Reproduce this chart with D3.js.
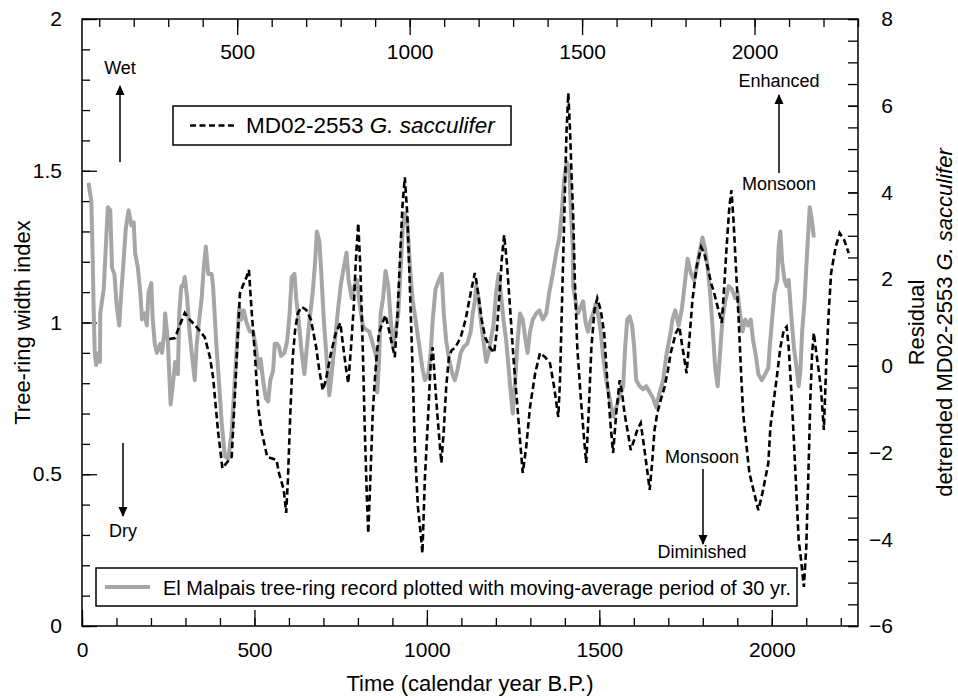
<!DOCTYPE html>
<html>
<head>
<meta charset="utf-8">
<script src="https://cdn.jsdelivr.net/npm/d3@7"></script>
<style>
  body { margin: 0; background: #fff; }
  svg { display: block; font-family: "Liberation Sans", Arial, Helvetica, sans-serif; }
  .tick text { font-size: 21px; fill: #000; }
  .tick line { stroke: #000; stroke-width: 1.3; }
  .note { font-size: 18px; }
  .title { font-size: 22px; }
</style>
</head>
<body>
<div id="chart"></div>
<script>
// El Malpais tree-ring record (30 yr moving average)
var grayYears = [19,27,31,34,37,41,48,52,53,63,70,75,82,87,94,101,108,114,121,127,135,143,150,154,162,169,174,182,188,193,201,205,211,217,227,232,239,241,249,253,257,263,270,278,282,288,
  293,298,305,311,318,327,332,340,347,353,359,366,376,380,390,398,405,414,424,434,443,450,456,462,469,477,487,496,504,511,518,525,533,540,546,554,559,566,571,
  577,587,595,602,608,616,621,628,637,645,652,660,669,676,681,688,693,701,710,717,722,730,736,743,751,759,767,773,782,790,797,804,814,820,833,843,855,
  856,861,866,873,880,888,895,902,909,917,924,930,936,943,950,958,967,977,987,994,1004,1011,1017,1025,1035,1043,1049,1056,1064,1074,1081,1088,1098,1107,1117,1127,1133,1139,
  1143,1150,1156,1164,1172,1179,1185,1193,1201,1208,1214,1222,1230,1237,1243,1249,1256,1263,1270,1278,1285,1292,1299,1307,1317,1326,1336,1346,1355,1365,1375,1384,1391,1398,1405,1413,1418,1423,
  1424,1431,1438,1446,1453,1460,1467,1475,1482,1489,1496,1504,1511,1520,1530,1540,1549,1559,1569,1575,1581,1588,1595,1601,1607,1617,1627,1636,1646,1656,1665,1675,1685,1694,1707,
  1712,1720,1730,1740,1749,1756,1766,1775,1782,1792,1799,1807,1814,1821,1828,1836,1843,1850,1857,1865,1875,1884,1894,1901,1908,1915,1923,1931,1939,1946,1954,1961,1971,1981,1990,
  1994,2001,2008,2016,2020,2025,2030,2037,2043,2049,2056,2064,2072,2078,2083,2088,2095,2100,2106,2110,2116,2122];
var grayValues = [1.46,1.40,1.21,1.03,0.90,0.86,0.90,0.87,1.03,1.11,1.27,1.38,1.37,1.18,1.16,1.05,0.99,1.10,1.21,1.31,1.37,1.32,1.33,1.23,1.18,1.10,1.01,1.03,0.99,1.10,1.13,1.01,0.93,0.90,0.93,0.90,0.97,1.03,0.94,0.83,0.73,0.79,0.87,0.83,1.03,1.12,
  1.12,1.15,1.08,0.98,0.90,0.81,0.92,1.01,1.08,1.18,1.25,1.16,1.16,1.12,0.92,0.79,0.67,0.56,0.55,0.64,0.81,0.94,1.05,1.01,1.04,1.00,0.97,0.97,0.92,0.85,0.88,0.81,0.75,0.74,0.81,0.84,0.93,0.93,0.92,
  0.89,0.90,0.94,1.03,1.15,1.16,1.08,1.01,0.90,0.83,0.92,1.01,1.10,1.20,1.30,1.27,1.18,1.01,0.87,0.76,0.81,0.90,0.97,1.05,1.13,1.18,1.23,1.14,1.08,1.12,1.14,1.07,0.99,0.98,0.97,0.93,0.88,
  0.77,0.87,1.03,1.08,1.17,1.12,1.01,0.92,0.97,1.03,1.18,1.31,1.36,1.34,1.20,1.08,1.01,0.93,0.85,0.81,0.83,0.90,1.01,1.11,1.14,1.16,1.03,0.94,0.88,0.83,0.81,0.84,0.90,0.92,0.93,0.97,1.03,1.07,
  1.12,1.08,1.01,0.94,0.87,0.90,0.94,0.99,1.10,1.16,1.10,1.01,0.94,0.85,0.77,0.70,0.81,0.94,1.03,1.01,0.95,0.90,0.97,1.01,1.03,1.04,1.01,1.03,1.10,1.16,1.23,1.28,1.36,1.47,1.53,1.50,1.36,1.25,
  1.12,1.07,1.03,1.05,1.07,1.00,0.97,1.01,1.03,1.06,1.03,0.97,0.89,0.81,0.75,0.69,0.72,0.76,0.79,0.92,1.01,1.02,0.99,0.92,0.81,0.79,0.78,0.79,0.77,0.75,0.72,0.77,0.81,0.89,0.97,
  1.01,1.04,0.99,1.05,1.14,1.21,1.16,1.14,1.18,1.24,1.28,1.24,1.18,1.10,0.99,0.85,0.79,0.90,1.01,1.07,1.12,1.11,1.08,1.10,1.03,0.97,1.01,0.99,1.01,0.94,0.89,0.83,0.81,0.83,0.85,
  0.92,1.01,1.10,1.14,1.25,1.30,1.20,1.14,1.12,1.14,1.03,0.92,0.85,0.79,0.84,0.97,1.07,1.18,1.30,1.38,1.34,1.28];

// MD02-2553 G. sacculifer residual (right axis)
var dashYears = [253,270,280,298,313,332,356,371,380,388,395,402,407,419,434,443,450,458,467,477,484,491,501,511,520,537,564,571,585,592,597,604,611,618,626,637,650,664,679,688,
  698,707,722,736,749,756,765,772,780,788,794,801,807,814,820,826,830,836,843,849,855,861,871,880,888,898,907,914,921,929,936,943,950,958,965,974,982,987,994,1004,
  1011,1017,1023,1030,1038,1042,1049,1056,1064,1072,1083,1098,1112,1127,1139,1143,1150,1159,1169,1182,1195,1203,1211,1217,1224,1232,1239,1246,1253,1261,1270,1278,1288,1299,1314,1328,1343,1357,1369,1381,
  1386,1391,1396,1401,1405,1410,1415,1420,1424,1429,1436,1446,1456,1462,1469,1477,1486,1494,1504,1514,1523,1533,1540,1549,1559,1566,1573,1583,1591,1601,1610,1620,1627,1636,1646,1653,1660,1668,1678,1689,
  1699,1707,1722,1732,1741,1753,1761,1770,1782,1795,1804,1814,1824,1833,1843,1855,1862,1869,1877,1883,1889,1896,1904,1911,1917,1925,1935,1949,1961,1973,1990,1996,2006,2016,2025,2035,2043,2049,2056,2064,
  2072,2078,2085,2093,2100,2107,2112,2117,2122,2129,2136,2143,2151,2158,2165,2172,2185,2197,2210,2223];
var dashValues = [0.62,0.64,0.87,1.22,1.06,0.90,0.66,0.20,-0.26,-0.95,-1.55,-2.01,-2.36,-2.24,-2.10,-0.72,0.43,1.68,1.86,2.05,2.21,1.36,0.30,-0.95,-1.48,-2.10,-2.17,-2.47,-2.86,-3.39,-2.63,-1.09,0.20,0.83,1.22,1.36,1.29,1.06,0.43,-0.10,
  -0.56,-0.33,0.30,0.76,0.99,0.53,-0.03,-0.40,0.43,1.36,2.44,3.29,2.28,0.43,-1.48,-3.03,-3.86,-2.63,-1.09,-0.33,0.30,0.76,0.99,1.17,0.90,0.53,0.20,1.06,2.28,3.66,4.35,3.52,1.98,0.06,-1.87,-3.26,-3.86,-4.32,-2.63,-1.09,
  0.06,0.43,-0.33,-1.09,-1.87,-2.24,-1.48,-0.49,0.20,0.36,0.43,0.66,1.06,1.68,2.14,1.98,1.59,1.06,0.66,0.43,0.30,0.83,1.68,2.44,3.02,2.37,1.59,0.76,-0.03,-0.79,-1.71,-2.47,-1.87,-0.95,-0.17,0.30,0.20,0.06,-0.49,-1.18,
  -0.33,1.22,2.74,4.28,5.44,6.29,5.44,4.28,3.52,1.98,0.43,-0.72,-1.71,-2.24,-1.09,0.43,1.29,1.56,1.29,0.76,-0.33,-1.41,-2.01,-1.09,-0.33,-0.63,-1.09,-1.55,-1.94,-1.71,-1.48,-1.32,-1.71,-2.24,-2.86,-2.24,-1.48,-1.09,-0.79,-0.49,
  -0.10,0.30,0.76,0.90,0.43,-0.17,0.60,1.52,2.28,2.74,2.60,2.28,1.91,1.68,1.36,0.99,1.82,2.74,3.66,4.05,3.36,2.28,1.06,-0.17,-1.09,-1.71,-2.47,-2.93,-3.33,-2.93,-2.24,-1.41,-0.79,-0.17,0.43,0.83,0.90,0.43,-0.49,-1.71,
  -3.03,-4.02,-4.48,-5.10,-4.18,-2.24,-0.72,0.30,0.76,0.30,-0.10,-0.56,-1.48,0.06,1.22,2.14,2.74,3.06,2.90,2.60];

var bottomMajor = [0,500,1000,1500,2000];
var topMajor = [500,1000,1500,2000];
var leftMajor = [0,0.5,1,1.5,2];
var rightMajor = [-6,-4,-2,0,2,4,6,8];

var width = 958, height = 698;
var plotL = 82, plotR = 858, plotT = 19, plotB = 626; // note: "top" is taken by window.top

var x = d3.scaleLinear().domain([0,2250]).range([plotL,plotR]);
var xTop = d3.scaleLinear().domain([50,2300]).range([plotL,plotR]); // top scale runs 50 yr ahead
var yL = d3.scaleLinear().domain([0,2]).range([plotB,plotT]);
var yR = d3.scaleLinear().domain([-6,8]).range([plotB,plotT]);

var svg = d3.select("#chart").append("svg")
    .attr("width", width)
    .attr("height", height);

svg.append("defs").append("marker")
    .attr("id", "head")
    .attr("viewBox", "0 0 10 10")
    .attr("refX", 9).attr("refY", 5)
    .attr("markerWidth", 10).attr("markerHeight", 11)
    .attr("markerUnits", "userSpaceOnUse")
    .attr("orient", "auto")
  .append("path")
    .attr("d", "M0,0.5 L10,5 L0,9.5 Z")
    .attr("fill", "#000");

// minor ticks first, then majors with labels
function minor(lo, hi, step){
    return d3.range(lo, hi + step/2, step);
}

svg.append("g").attr("transform", "translate(0," + plotB + ")")
    .call(d3.axisBottom(x).tickValues(minor(0,2200,100)).tickSize(-8).tickFormat(""));
svg.append("g").attr("transform", "translate(0," + plotB + ")")
    .call(d3.axisBottom(x).tickValues(bottomMajor).tickSize(-16).tickPadding(16).tickFormat(d3.format("d")));

svg.append("g").attr("transform", "translate(0," + plotT + ")")
    .call(d3.axisBottom(xTop).tickValues(minor(100,2300,100)).tickSize(8).tickFormat(""));
svg.append("g").attr("transform", "translate(0," + plotT + ")")
    .call(d3.axisBottom(xTop).tickValues(topMajor).tickSize(16).tickPadding(9).tickFormat(d3.format("d")));

svg.append("g").attr("transform", "translate(" + plotL + ",0)")
    .call(d3.axisLeft(yL).tickValues(minor(0,2,0.1)).tickSize(-8).tickFormat(""));
svg.append("g").attr("transform", "translate(" + plotL + ",0)")
    .call(d3.axisLeft(yL).tickValues(leftMajor).tickSize(-15).tickPadding(20).tickFormat(function(d){ return String(d); }));

svg.append("g").attr("transform", "translate(" + plotR + ",0)")
    .call(d3.axisRight(yR).tickValues(minor(-6,8,0.5)).tickSize(-10).tickFormat(""));
var rAxis = svg.append("g").attr("transform", "translate(" + plotR + ",0)")
    .call(d3.axisRight(yR).tickValues(rightMajor).tickSize(-10).tickFormat(d3.format("d")));
rAxis.selectAll("text").attr("text-anchor", "end").attr("x", 35);

svg.selectAll(".domain").remove();

svg.append("rect")
    .attr("x", plotL).attr("y", plotT)
    .attr("width", plotR - plotL).attr("height", plotB - plotT)
    .attr("fill", "none").attr("stroke", "#000").attr("stroke-width", 1.5);

// series
var grayLine = d3.line().x(function(d){ return x(d[0]); }).y(function(d){ return yL(d[1]); });
var dashLine = d3.line().x(function(d){ return x(d[0]); }).y(function(d){ return yR(d[1]); });

svg.append("path")
    .datum(d3.zip(grayYears, grayValues))
    .attr("d", grayLine)
    .attr("fill", "none")
    .attr("stroke", "#a6a6a6")
    .attr("stroke-width", 4)
    .attr("stroke-linejoin", "round");

svg.append("path")
    .datum(d3.zip(dashYears, dashValues))
    .attr("d", dashLine)
    .attr("fill", "none")
    .attr("stroke", "#000")
    .attr("stroke-width", 2.6)
    .attr("stroke-dasharray", "6.5,3.5");

// legends
var leg1 = svg.append("g");
leg1.append("rect").attr("x", 173).attr("y", 106).attr("width", 338).attr("height", 39)
    .attr("fill", "#fff").attr("stroke", "#000").attr("stroke-width", 1.5);
leg1.append("line").attr("x1", 190).attr("x2", 237).attr("y1", 125.5).attr("y2", 125.5)
    .attr("stroke", "#000").attr("stroke-width", 2.6).attr("stroke-dasharray", "6,3.5");
var t1 = leg1.append("text").attr("x", 246).attr("y", 133).attr("font-size", 22.5);
t1.append("tspan").text("MD02-2553 ");
t1.append("tspan").attr("font-style", "italic").text("G. sacculifer");

var leg2 = svg.append("g");
leg2.append("rect").attr("x", 96).attr("y", 568).attr("width", 701).attr("height", 38)
    .attr("fill", "#fff").attr("stroke", "#000").attr("stroke-width", 1.5);
leg2.append("line").attr("x1", 105).attr("x2", 150).attr("y1", 587).attr("y2", 587)
    .attr("stroke", "#a6a6a6").attr("stroke-width", 4);
leg2.append("text").attr("x", 163).attr("y", 595).attr("font-size", 20)
    .text("El Malpais tree-ring record plotted with moving-average period of 30 yr.");

// wet / dry and monsoon arrows
var notes = [
    {text: "Wet", x: 120, y: 74},
    {text: "Dry", x: 123, y: 537},
    {text: "Enhanced", x: 779, y: 87},
    {text: "Monsoon", x: 779, y: 190},
    {text: "Monsoon", x: 702, y: 463},
    {text: "Diminished", x: 702, y: 558}
];
svg.selectAll(".note").data(notes).enter().append("text")
    .attr("class", "note")
    .attr("x", function(d){ return d.x; })
    .attr("y", function(d){ return d.y; })
    .attr("text-anchor", "middle")
    .text(function(d){ return d.text; });

var arrows = [
    {x: 120, y1: 162, y2: 86},
    {x: 123, y1: 443, y2: 516},
    {x: 779, y1: 173, y2: 95},
    {x: 703, y1: 469, y2: 544}
];
svg.selectAll(".arrow").data(arrows).enter().append("line")
    .attr("x1", function(d){ return d.x; }).attr("x2", function(d){ return d.x; })
    .attr("y1", function(d){ return d.y1; }).attr("y2", function(d){ return d.y2; })
    .attr("stroke", "#000").attr("stroke-width", 1.5)
    .attr("marker-end", "url(#head)");

// axis titles
svg.append("text").attr("class", "title")
    .attr("x", (plotL + plotR)/2).attr("y", 691)
    .attr("text-anchor", "middle")
    .text("Time (calendar year B.P.)");

svg.append("text").attr("class", "title")
    .attr("transform", "translate(30," + (plotT + plotB)/2 + ") rotate(-90)")
    .attr("text-anchor", "middle")
    .text("Tree-ring width index");

svg.append("text").attr("class", "title")
    .attr("transform", "translate(924," + (plotT + plotB)/2 + ") rotate(-90)")
    .attr("text-anchor", "middle")
    .text("Residual");
var rt = svg.append("text").attr("class", "title")
    .attr("transform", "translate(952," + (plotT + plotB)/2 + ") rotate(-90)")
    .attr("text-anchor", "middle");
rt.append("tspan").text("detrended MD02-2553 ");
rt.append("tspan").attr("font-style", "italic").text("G. sacculifer");
</script>
</body>
</html>
